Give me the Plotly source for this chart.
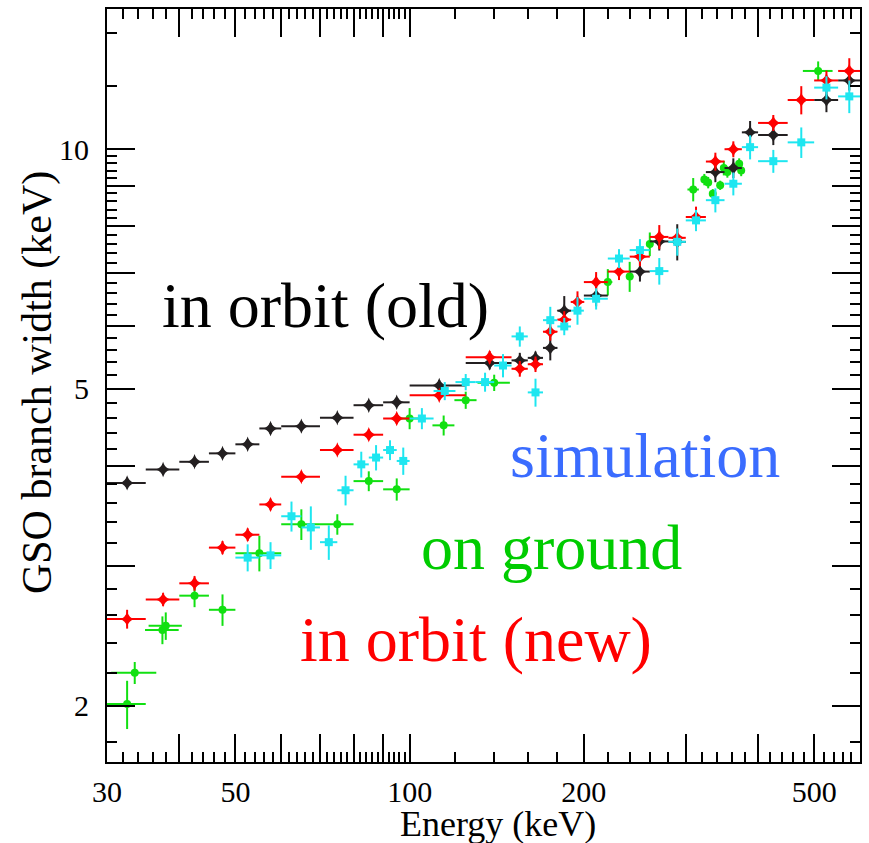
import numpy as np
import plotly.graph_objects as go

# ---------------- data ----------------
black_e = [32.5, 37.5, 42.5, 47.5, 52.5, 57.5, 65, 75, 85, 95, 112.5, 137.5, 155, 165, 175, 185,
           210, 250, 270, 290, 337.5, 362.5, 387.5, 425, 525, 575]
black_w = [3.81, 3.96, 4.05, 4.15, 4.26, 4.46, 4.49, 4.60, 4.77, 4.81, 5.05, 5.39, 5.43, 5.47, 5.63, 6.27,
           6.55, 7.02, 7.66, 7.65, 9.36, 9.47, 10.5, 10.42, 11.53, 12.2]
black_xe = [2.5, 2.5, 2.5, 2.5, 2.5, 2.5, 5, 5, 5, 5, 12.5, 12.5, 5, 5, 5, 5,
            10, 10, 10, 10, 12.5, 12.5, 12.5, 25, 25, 25]
black_ye = [0.06, 0.06, 0.06, 0.06, 0.06, 0.07, 0.06, 0.06, 0.06, 0.06, 0.08, 0.10, 0.12, 0.10, 0.20, 0.27,
            0.20, 0.20, 0.20, 0.40, 0.27, 0.27, 0.35, 0.30, 0.40, 0.35]

red_e = [32.5, 37.5, 42.5, 47.5, 52.5, 57.5, 65, 75, 85, 95, 112.5, 137.5, 155, 165, 175, 185, 195,
         210, 230, 250, 270, 290, 312.5, 337.5, 362.5, 425, 475, 525, 575]
red_w = [2.57, 2.72, 2.85, 3.16, 3.28, 3.58, 3.88, 4.19, 4.38, 4.59, 4.91, 5.48, 5.30, 5.37, 5.90, 6.11, 6.43,
         6.81, 7.02, 7.33, 7.76, 7.74, 8.22, 9.65, 10.0, 10.79, 11.53, 12.2, 12.54]
red_xe = [2.5, 2.5, 2.5, 2.5, 2.5, 2.5, 5, 5, 5, 5, 12.5, 12.5, 5, 5, 5, 5, 5,
          10, 10, 10, 10, 10, 12.5, 12.5, 12.5, 25, 25, 25, 25]
red_ye = [0.07, 0.05, 0.06, 0.06, 0.06, 0.06, 0.06, 0.06, 0.07, 0.07, 0.07, 0.10, 0.12, 0.12, 0.15, 0.15, 0.20,
          0.20, 0.17, 0.20, 0.27, 0.20, 0.25, 0.25, 0.23, 0.25, 0.47, 0.35, 0.47]

green_e = [32.5, 33.5, 37.4, 37.9, 42.5, 47.5, 55, 65, 75, 85, 95, 100, 114.5, 125, 140,
           220, 240, 260, 309, 323, 328, 334, 344, 349, 354, 371, 374, 508]
green_w = [2.01, 2.20, 2.49, 2.52, 2.75, 2.64, 3.11, 3.38, 3.38, 3.83, 3.74, 4.59, 4.50, 4.84, 5.09,
           6.81, 6.92, 7.60, 8.90, 9.16, 9.08, 8.79, 9.01, 9.47, 9.36, 9.59, 9.40, 12.54]
green_xe = [2.5, 3, 2.5, 2.5, 2.5, 2.5, 5, 5, 5, 5, 5, 5, 5, 5.5, 9,
            4, 3.5, 3.5, 7, 2, 2, 2, 2, 2, 2, 2, 2, 30]
green_ye = [0.14, 0.07, 0.10, 0.10, 0.09, 0.12, 0.16, 0.15, 0.10, 0.11, 0.12, 0.14, 0.13, 0.12, 0.12,
            0.26, 0.30, 0.26, 0.30, 0.15, 0.15, 0.12, 0.12, 0.20, 0.15, 0.15, 0.15, 0.35]

cyan_e = [52.5, 57.5, 62.5, 67.5, 72.5, 77.5, 82.5, 87.5, 92.5, 97.5, 105, 115, 125, 135, 145, 155, 165,
          175, 185, 195, 210, 230, 250, 270, 290, 312.5, 337.5, 362.5, 387.5, 425, 475, 525, 575]
cyan_w = [3.07, 3.09, 3.46, 3.35, 3.21, 3.73, 4.02, 4.10, 4.19, 4.06, 4.59, 4.97, 5.10, 5.10, 5.35, 5.82, 4.95,
          6.10, 5.99, 6.27, 6.49, 7.29, 7.47, 7.03, 7.65, 8.14, 8.63, 9.05, 10.06, 9.66, 10.2, 11.95, 11.65]
cyan_xe = [2.5, 2.5, 2.5, 2.5, 2.5, 2.5, 2.5, 2.5, 2.5, 2.5, 5, 5, 5, 5, 5, 5, 5,
           5, 5, 5, 10, 10, 10, 10, 10, 12.5, 12.5, 12.5, 12.5, 25, 25, 25, 25]
cyan_ye = [0.12, 0.12, 0.15, 0.21, 0.16, 0.16, 0.15, 0.15, 0.12, 0.16, 0.14, 0.13, 0.12, 0.14, 0.18, 0.17, 0.20,
           0.24, 0.15, 0.25, 0.20, 0.20, 0.24, 0.27, 0.30, 0.25, 0.30, 0.30, 0.35, 0.32, 0.45, 0.40, 0.55]

x_major = [30, 40, 50, 60, 70, 80, 90, 100, 200, 300, 400, 500, 600]
x_major_text = ["30", "", "50", "", "", "", "", "100", "200", "", "", "500", ""]
y_major = [2, 3, 4, 5, 6, 7, 8, 9, 10]
y_major_text = ["2", "", "", "5", "", "", "", "", "10"]

labels = [("in orbit (old)", "#000000"), ("simulation", "#3a6cff"),
          ("on ground", "#00cc00"), ("in orbit (new)", "#ff0000")]

# minor tick positions
x_minor = [v for v in list(range(32, 100, 2)) + list(range(120, 600, 20)) if v not in x_major]
y_minor = [round(v, 1) for v in np.arange(1.8, 10.0, 0.2) if abs(v - round(v)) > 1e-6] + [12, 14]

FONT = "Liberation Serif"
BLACK = "#231f20"
RED = "#ff0000"
GREEN = "#11e011"
CYAN = "#1ee6f0"

fig = go.Figure()

def add_series(e, w, xe, ye, color, symbol, size, name):
    fig.add_trace(go.Scatter(
        x=e, y=w, mode="markers", name=name,
        marker=dict(symbol=symbol, size=size, color=color, line=dict(width=0)),
        error_x=dict(type="data", array=xe, color=color, thickness=2, width=0),
        error_y=dict(type="data", array=ye, color=color, thickness=2, width=0),
        showlegend=False,
    ))

add_series(green_e, green_w, green_xe, green_ye, GREEN, "circle", 8, "on ground")
add_series(black_e, black_w, black_xe, black_ye, BLACK, "star-diamond", 11, "in orbit (old)")
add_series(red_e, red_w, red_xe, red_ye, RED, "star-diamond", 11, "in orbit (new)")
add_series(cyan_e, cyan_w, cyan_xe, cyan_ye, CYAN, "square", 8, "simulation")

L, R, T, B = 107, 8, 7, 81
W, H = 869, 843
pw, ph = W - L - R, H - T - B

def px(x):
    return (x - L) / pw

def py(y):
    return (H - B - y) / ph

label_pos = [(326, 304), (646, 455), (552, 547), (476, 639)]
for (txt, col), (lx, ly) in zip(labels, label_pos):
    fig.add_annotation(text=txt, x=px(lx), y=py(ly), xref="paper", yref="paper",
                       xanchor="center", yanchor="middle", showarrow=False,
                       font=dict(family=FONT, size=64, color=col))

fig.add_annotation(text="Energy (keV)", x=px(499), y=py(824), xref="paper", yref="paper",
                   xanchor="center", yanchor="middle", showarrow=False,
                   font=dict(family=FONT, size=36, color="black"))
fig.add_annotation(text="GSO branch width (keV)", x=px(37), y=py(382), xref="paper", yref="paper",
                   xanchor="center", yanchor="middle", showarrow=False, textangle=-90,
                   font=dict(family=FONT, size=42, color="black"))

axis_common = dict(
    type="log", ticks="inside", ticklen=28, tickwidth=2, tickcolor="black",
    showline=True, linewidth=2, linecolor="black", mirror="ticks",
    showgrid=False, zeroline=False,
    tickfont=dict(family=FONT, size=30, color="black"),
)

fig.update_xaxes(**axis_common, range=[np.log10(30), np.log10(600)],
                 tickmode="array", tickvals=x_major, ticktext=x_major_text,
                 ticklabelstandoff=2,
                 minor=dict(tickmode="array", tickvals=x_minor, ticks="inside", ticklen=10,
                            tickwidth=2, tickcolor="black", showgrid=False))
fig.update_yaxes(**axis_common, range=[np.log10(1.7), np.log10(15)],
                 tickmode="array", tickvals=y_major, ticktext=y_major_text,
                 ticklabelstandoff=10,
                 minor=dict(tickmode="array", tickvals=y_minor, ticks="inside", ticklen=10,
                            tickwidth=2, tickcolor="black", showgrid=False))

fig.update_layout(
    width=W, height=H,
    margin=dict(l=L, r=R, t=T, b=B, pad=0),
    paper_bgcolor="white", plot_bgcolor="white",
    font=dict(family=FONT, color="black"),
)

fig.write_html("out.html")
